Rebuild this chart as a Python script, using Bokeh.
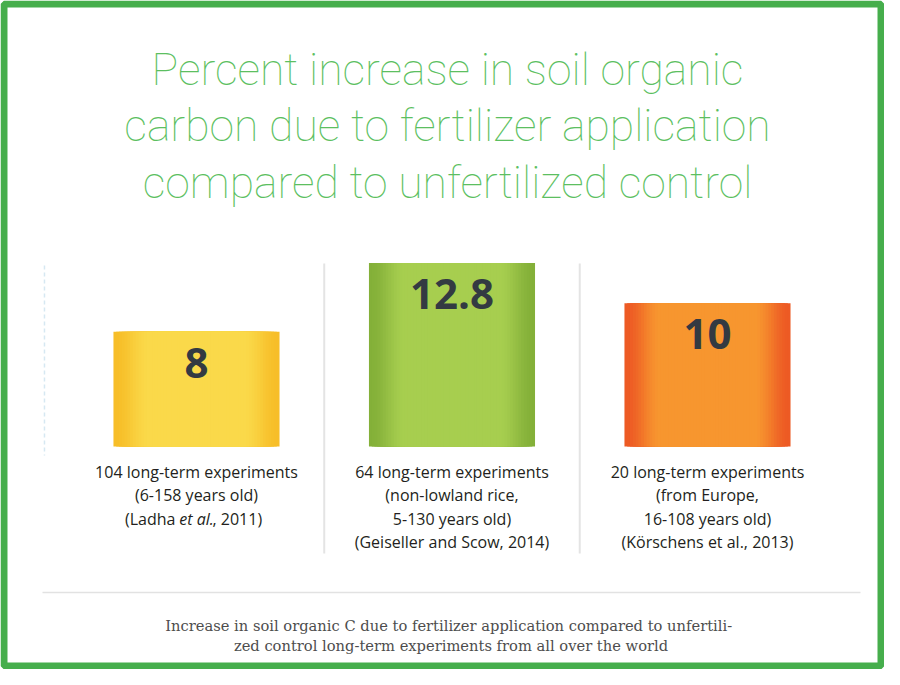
from bokeh.plotting import figure
from bokeh.models import Range1d, ColumnDataSource
from bokeh.core.properties import value
from bokeh.embed import file_html
from bokeh.resources import INLINE

# ---- data ----
values = [8, 12.8, 10]
value_labels = ["8", "12.8", "10"]
line1 = ["104 long-term experiments", "64 long-term experiments", "20 long-term experiments"]
line2 = ["(6-158 years old)", "(non-lowland rice,", "(from Europe,"]
line3 = ["", "5-130 years old)", "16-108 years old)"]
line4 = ["", "(Geiseller and Scow, 2014)", "(Körschens et al., 2013)"]
ladha_parts = ["(Ladha", "et al.", ", 2011)"]
title_lines = ["Percent increase in soil organic",
               "carbon due to fertilizer application",
               "compared to unfertilized control"]
caption_lines = ["Increase in soil organic C due to fertilizer application compared to  unfertili-",
                 "zed control long-term experiments from all over the world"]

edge_colors = [(247, 190, 40), (132, 176, 57), (237, 90, 36)]
center_colors = [(250, 217, 74), (167, 206, 79), (247, 150, 47)]

W, H = 884, 669
p = figure(width=W, height=H, output_backend="svg", toolbar_location=None,
           x_range=Range1d(0, W), y_range=Range1d(H, 0),
           x_axis_location=None, y_axis_location=None, min_border=0)
p.grid.visible = False
p.outline_line_color = None
p.background_fill_color = "white"
p.border_fill_color = "white"
p.extra_x_ranges = {"cat": Range1d(-0.7671, 2.6928)}
p.extra_y_ranges = {"pct": Range1d(-15.56, 31.12)}

# green frame
GREEN = "#46ae4c"
p.rect(x=[W / 2], y=[H / 2], width=[W - 7], height=[H - 7],
       fill_color=None, line_color=GREEN, line_width=7)

# title
for i, t in enumerate(title_lines):
    p.text(x=[447], y=[69 + 56.5 * i], text=[t], text_align="center",
           text_baseline="middle", text_font=value("Roboto Thin, Roboto Light, Roboto"),
           text_font_size="44.5px", text_color="#5cbf61")

# separators
idx = list(range(len(values)))
p.segment(x0=[i + 0.5 for i in idx[:-1]], x1=[i + 0.5 for i in idx[:-1]],
          y0=[263] * 2, y1=[553] * 2, x_range_name="cat",
          line_color="#e4e4e4", line_width=2)
p.segment(x0=[-0.595], x1=[-0.595], y0=[265], y1=[455], x_range_name="cat",
          line_color="#d6e8f2", line_width=1.5, line_dash="4 3")

# gradient bars (nested, widest first)
N = 30
bw = 0.65
xs, tops, widths, cols = [], [], [], []
for i, v in enumerate(values):
    e, c = edge_colors[i], center_colors[i]
    for k in range(N):
        t = 1 - k / N
        m = min(1.0, max(0.0, (1 - t) / 0.42))
        m = m * m * (3 - 2 * m)
        col = tuple(int(round(e[j] + (c[j] - e[j]) * m)) for j in range(3))
        xs.append(i)
        tops.append(v)
        widths.append(bw * t)
        cols.append("#%02x%02x%02x" % col)
src = ColumnDataSource(dict(x=xs, top=tops, w=widths, color=cols))
p.vbar(x="x", top="top", bottom=0, width="w", source=src,
       fill_color="color", line_color=None, x_range_name="cat", y_range_name="pct")

# value labels
p.text(x=idx, y=values, text=value_labels, x_range_name="cat", y_range_name="pct",
       text_align="center", text_baseline="middle", y_offset=31,
       text_font=value("Open Sans"), text_font_style="bold",
       text_font_size="42px", text_color="#333a42")

# labels under bars
FONT = value("Open Sans")
FS = "16px"
TC = "#231f20"
for j, lines in enumerate([line1, line2, line3, line4]):
    xi = [i for i in idx if lines[i]]
    p.text(x=xi, y=[471 + 23.5 * j] * len(xi), text=[lines[i] for i in xi],
           x_range_name="cat", text_align="center", text_baseline="middle",
           text_font=FONT, text_font_size=FS, text_color=TC)
# italic "et al." line for the first study
p.text(x=[0], y=[518], text=[ladha_parts[0]], x_range_name="cat", x_offset=-21,
       text_align="right", text_baseline="middle", text_font=FONT,
       text_font_size=FS, text_color=TC)
p.text(x=[0], y=[518], text=[ladha_parts[1]], x_range_name="cat",
       text_align="center", text_baseline="middle", text_font=FONT,
       text_font_style="italic", text_font_size=FS, text_color=TC)
p.text(x=[0], y=[518], text=[ladha_parts[2]], x_range_name="cat", x_offset=16,
       text_align="left", text_baseline="middle", text_font=FONT,
       text_font_size=FS, text_color=TC)

# horizontal rule
p.segment(x0=[42], x1=[860], y0=[592], y1=[592], line_color="#e2e2e2", line_width=1.5)

# caption
for i, t in enumerate(caption_lines):
    p.text(x=[450.5], y=[625 + 20 * i], text=[t], text_align="center",
           text_baseline="middle", text_font=value("DejaVu Serif"),
           text_font_size="14.7px", text_color="#4d4d4d")

open("out.html", "w").write(file_html(p, INLINE))
